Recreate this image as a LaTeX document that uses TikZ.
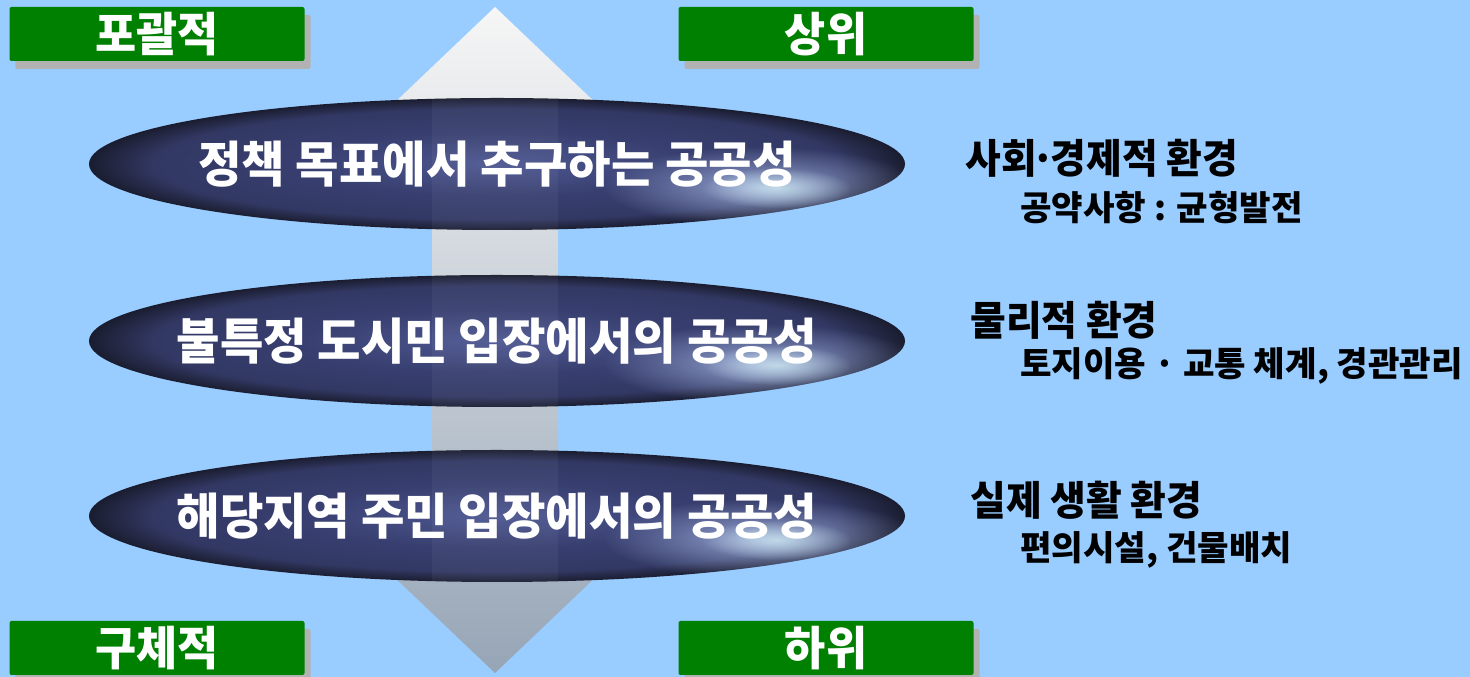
\documentclass[tikz,border=0pt]{standalone}
\usepackage{fontspec}
\newfontfamily\krfont[FakeStretch=0.96]{Noto Sans CJK KR}
\newfontfamily\krsub{Noto Sans CJK KR}
\usepackage{tikz}
\usetikzlibrary{shapes.geometric,shadows,fadings,positioning}

\definecolor{skyback}{RGB}{153,204,255}
\definecolor{taggreen}{RGB}{0,128,0}
\definecolor{tagshadow}{RGB}{178,178,178}
\definecolor{navyin}{RGB}{78,88,146}
\definecolor{navymid}{RGB}{56,63,112}
\definecolor{navyout}{RGB}{26,29,48}
\definecolor{glow}{RGB}{165,182,228}
\definecolor{glowcore}{RGB}{205,232,240}
\definecolor{arrtop}{RGB}{246,246,246}
\definecolor{arrbot}{RGB}{150,165,182}

\pgfdeclareradialshading{ellshade}{\pgfpoint{0bp}{0bp}}{color(0bp)=(navyin); color(12bp)=(navymid); color(21bp)=(navymid!80!navyout); color(25bp)=(navyout); color(50bp)=(navyout)}
\tikzfading[name=glowfade, inner color=transparent!0, outer color=transparent!100]

\newcommand{\lvtext}[1]{\makebox[0pt][c]{#1}}

\begin{document}
\begin{tikzpicture}[
        tag/.style={rectangle, fill=taggreen, rounded corners=0.04cm,
                    minimum width=5.9cm, minimum height=1.08cm, inner sep=0pt,
                    text=white, font=\krfont\bfseries\fontsize{26.5}{30}\selectfont,
                    drop shadow={shadow xshift=0.12cm, shadow yshift=-0.16cm, fill=tagshadow, opacity=1}},
        level/.style={ellipse, shading=ellshade, minimum width=16.32cm, minimum height=2.64cm,
                      inner sep=0pt, text=white, font=\krfont\bfseries\fontsize{28}{32}\selectfont,
                      path picture={
                        \fill[white, opacity=0.045] ([xshift=-1.3cm]path picture bounding box.south) rectangle ([xshift=1.22cm]path picture bounding box.north);
                        \fill[glow, path fading=glowfade, opacity=0.85] ([xshift=5.3cm, yshift=-0.45cm]path picture bounding box.center) ellipse (3.2cm and 0.8cm);
                        \fill[glowcore, path fading=glowfade, opacity=0.8] ([xshift=5.6cm, yshift=-0.48cm]path picture bounding box.center) ellipse (1.5cm and 0.4cm);
                      }},
        envhead/.style={anchor=west, inner sep=0pt, font=\krfont\bfseries\fontsize{23}{27}\selectfont},
        envnote/.style={anchor=west, inner sep=0pt, font=\krsub\bfseries\fontsize{19.5}{23}\selectfont}
      ]
        \useasboundingbox (0,0) rectangle (29.4,13.54);
        \fill[skyback] (0,0) rectangle (29.4,13.54);

        % Double arrow
        \shade[top color=arrtop, bottom color=arrbot]
          (9.9,13.4) -- (12.0,11.4) -- (11.16,11.4) -- (11.16,2.08) -- (12.0,2.08) -- (9.9,0.08)
          -- (7.8,2.08) -- (8.64,2.08) -- (8.64,11.4) -- (7.8,11.4) -- cycle;

        % Tags
        \node [tag] (tagwide) at (3.14,12.86) {포괄적};
        \node [tag] (tagupper) at (16.52,12.86) {상위};
        \node [tag] (tagconcrete) at (3.14,0.58) {구체적};
        \node [tag] (taglower) at (16.52,0.58) {하위};

        % Levels
        \node [level] (policy) at (9.94,10.26) {\lvtext{정책 목표에서 추구하는 공공성}};
        \node [level] (citizen) at (9.94,6.72) {\lvtext{불특정 도시민 입장에서의 공공성}};
        \node [level] (resident) at (9.94,3.22) {\lvtext{해당지역 주민 입장에서의 공공성}};

        % Environments
        \node [envhead] (socenv) at (19.3,10.38) {사회{\kern-0.12em}·{\kern-0.12em}경제적 환경};
        \node [envnote] (socnote) at (20.4,9.38) {공약사항 : 균형발전};
        \node [envhead] (physenv) at (19.4,7.14) {물리적 환경};
        \node [envnote] (physnote) at (20.4,6.22) {토지이용 · 교통 체계, 경관관리};
        \node [envhead] (lifeenv) at (19.4,3.54) {실제 생활 환경};
        \node [envnote] (lifenote) at (20.4,2.54) {편의시설, 건물배치};
      \end{tikzpicture}
\end{document}
